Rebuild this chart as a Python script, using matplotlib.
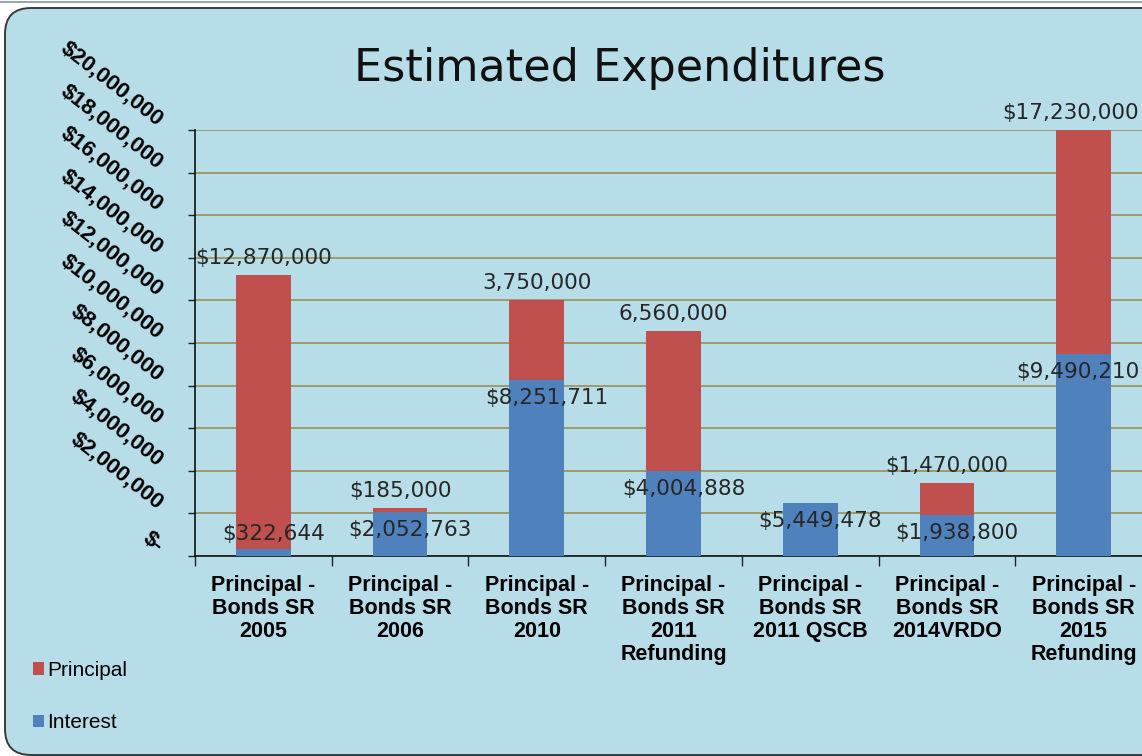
import matplotlib
matplotlib.use("Agg")
import matplotlib.pyplot as plt
from matplotlib.patches import FancyBboxPatch
from matplotlib.lines import Line2D
import numpy as np

# data
categories = ["Principal -\nBonds SR\n2005", "Principal -\nBonds SR\n2006",
              "Principal -\nBonds SR\n2010", "Principal -\nBonds SR\n2011\nRefunding",
              "Principal -\nBonds SR\n2011 QSCB", "Principal -\nBonds SR\n2014VRDO",
              "Principal -\nBonds SR\n2015\nRefunding"]
interest = [322644, 2052763, 8251711, 4004888, 2490000, 1938800, 9490210]
principal = [12870000, 185000, 3750000, 6560000, 0, 1470000, 17230000]
interest_labels = ["$322,644", "$2,052,763", "$8,251,711", "$4,004,888",
                   "$5,449,478", "$1,938,800", "$9,490,210"]
principal_labels = ["$12,870,000", "$185,000", "3,750,000", "6,560,000",
                    "", "$1,470,000", "$17,230,000"]
yticks = np.arange(0, 20000001, 2000000)

RED = "#C0504D"
BLUE = "#4F81BD"
BG = "#B7DDE8"
GRID = "#9E9A6C"

W, H = 1142, 756
fig = plt.figure(figsize=(W / 100, H / 100), dpi=100)
fig.patch.set_facecolor("white")

# rounded background panel (pixel coords)
bg = FancyBboxPatch((5, 1), 1200, H - 9, boxstyle="round,pad=0,rounding_size=26",
                    transform=None, facecolor=BG, edgecolor="#3a3a3a", linewidth=1.4,
                    zorder=0)
fig.add_artist(bg)
fig.add_artist(Line2D([0, 1], [1 - 1.5 / H, 1 - 1.5 / H], transform=fig.transFigure,
                      color="#9aa6ac", linewidth=1.5))

ax = fig.add_axes([195 / W, 1 - 556 / H, 957 / W, 426 / H])
ax.set_facecolor("none")

x = np.arange(len(categories))
bw = 0.40
ax.bar(x, interest, bw, color=BLUE, label="Interest", zorder=3)
ax.bar(x, principal, bw, bottom=interest, color=RED, label="Principal", zorder=3)

ax.set_xlim(-0.5, 6.5)
ax.set_ylim(0, 20000000)
ax.set_yticks(yticks)
ax.set_yticklabels([])
ax.yaxis.grid(True, color=GRID, linewidth=1.4, zorder=1)
ax.set_axisbelow(True)
ax.tick_params(axis="y", length=5, width=1, color="#222222", direction="out")

ax.set_xticks(x)
ax.set_xticklabels(categories, fontsize=15.5, fontweight="bold",
                   family="Liberation Sans", linespacing=1.12)
ax.set_xticks(np.arange(-0.5, 7, 1), minor=True)
ax.tick_params(axis="x", which="major", length=0, pad=14)
ax.tick_params(axis="x", which="minor", length=7, width=1, color="#222222")

for s in ["top", "right"]:
    ax.spines[s].set_visible(False)
for s in ["left", "bottom"]:
    ax.spines[s].set_color("#111111")
    ax.spines[s].set_linewidth(1.2)

# rotated y labels
for v in yticks:
    txt = "$-" if v == 0 else "${:,}".format(int(v))
    ax.annotate(txt, xy=(0, v), xycoords=ax.get_yaxis_transform(),
                xytext=(-34, 8), textcoords="offset pixels",
                ha="right", va="center", rotation=-38, rotation_mode="anchor",
                fontsize=16, fontweight="bold", family="Liberation Sans",
                color="black", annotation_clip=False)

# data labels
dlabels = []
for i in range(len(categories)):
    ly = max(interest[i], 1900000)
    t = ax.annotate(interest_labels[i], xy=(x[i], ly), xytext=(10, -18),
                    textcoords="offset pixels", ha="center", va="center",
                    fontsize=15.5, color="#262626", family="DejaVu Sans",
                    annotation_clip=False, zorder=5)
    dlabels.append(t)
    if principal_labels[i]:
        top = min(interest[i] + principal[i], 20000000)
        t = ax.annotate(principal_labels[i], xy=(x[i], top), xytext=(0, 17),
                        textcoords="offset pixels", ha="center", va="center",
                        fontsize=15.5, color="#262626", family="DejaVu Sans",
                        annotation_clip=False, zorder=5)
        dlabels.append(t)

fig.text(620 / W, 1 - 68 / H, "Estimated Expenditures", fontsize=32,
         family="DejaVu Sans", color="#111111", ha="center", va="center")

h, l = ax.get_legend_handles_labels()
leg = fig.legend(h[::-1], l[::-1], loc="upper left",
                 bbox_to_anchor=(33 / W, 1 - 661 / H), frameon=False,
                 prop={"family": "Liberation Sans", "size": 15},
                 handlelength=0.55, handleheight=0.55, handletextpad=0.15,
                 labelspacing=1.6, borderaxespad=0, borderpad=0)

# keep labels at the right edge inside the picture
fig.canvas.draw()
r = fig.canvas.get_renderer()
for t in dlabels:
    bb = t.get_window_extent(r)
    if bb.x1 > W - 3:
        ox, oy = t.xyann
        t.xyann = (ox - (bb.x1 - (W - 3)), oy)

fig.savefig("out.png", dpi=100, facecolor=fig.get_facecolor())
